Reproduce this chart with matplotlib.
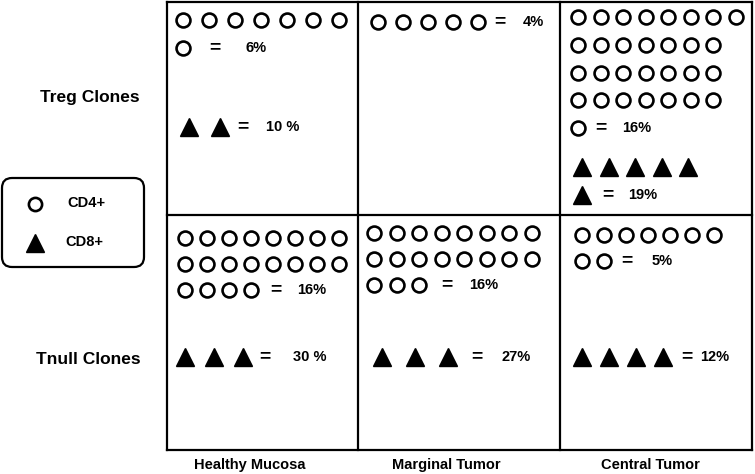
import matplotlib
matplotlib.use('Agg')
import matplotlib.pyplot as plt
from matplotlib.patches import FancyBboxPatch

plt.rcParams['font.family'] = ['Liberation Sans', 'DejaVu Sans']
plt.rcParams['font.weight'] = 'bold'

#%% data: how many clone symbols sit in each row of a cell, and the share they stand for
columns = ['Healthy Mucosa', 'Marginal Tumor', 'Central Tumor']
rows = ['Treg Clones', 'Tnull Clones']

treg_cd4_rows = [[7, 1], [5], [8, 7, 7, 7, 1]]
treg_cd4_pct = ['6%', '4%', '16%']
treg_cd8_rows = [[2], [], [5, 1]]
treg_cd8_pct = ['10 %', '', '19%']

tnull_cd4_rows = [[8, 8, 4], [8, 8, 3], [7, 2]]
tnull_cd4_pct = ['16%', '16%', '5%']
tnull_cd8_rows = [[3], [3], [4]]
tnull_cd8_pct = ['30 %', '27%', '12%']

legend_labels = ['CD4+', 'CD8+']

#%% layout (pixels): x0, y0, dx, dy, gap to '=', gap '=' -> percent
lay_treg_cd4 = [(183, 20, 26, 28, 32, 30), (378, 22, 25, 28, 22, 23), (578, 17, 22.5, 27.8, 23, 21)]
lay_treg_cd8 = [(189, 127, 31, 28, 23, 23), None, (582, 167, 26.5, 28, 26, 20)]
lay_tnull_cd4 = [(185, 238, 22, 26, 25, 21), (374, 233, 22.5, 26, 28, 22), (582, 235, 22, 26, 23, 25)]
lay_tnull_cd8 = [(185, 357, 29, 28, 22, 28), (382, 357, 33, 28, 29, 24), (582, 357, 27, 28, 24, 13)]

col_edges = [167, 358, 560, 752]
row_edges = [2, 215, 450]
col_label_x = [250, 446, 650]
row_label_pos = [(90, 97), (88, 360)]

circle = dict(marker='o', ms=10, mfc='white', mec='black', mew=1.9, ls='none')
tri = dict(marker='^', ms=13.5, mfc='black', mec='black', ls='none')
fs_txt = 10.5

fig = plt.figure(figsize=(7.55, 4.74), dpi=100)
ax = fig.add_axes([0, 0, 1, 1])
ax.set_xlim(0, 755)
ax.set_ylim(474, 0)
ax.axis('off')

# grid
for x in col_edges:
    ax.plot([x, x], [row_edges[0], row_edges[-1]], color='black', lw=1.6, solid_capstyle='projecting')
for y in row_edges:
    ax.plot([col_edges[0], col_edges[-1]], [y, y], color='black', lw=1.6, solid_capstyle='projecting')


def draw_group(counts, pct, lay, style):
    if lay is None or not counts:
        return
    x0, y0, dx, dy, eq_gap, pct_gap = lay
    last_x, last_y = x0, y0
    for i, n in enumerate(counts):
        xs = [x0 + j * dx for j in range(n)]
        ys = [y0 + i * dy] * n
        ax.plot(xs, ys, **style)
        last_x, last_y = xs[-1], ys[-1]
    ex = last_x + eq_gap
    ax.text(ex, last_y, '=', fontsize=14, ha='center', va='center')
    ax.text(ex + pct_gap, last_y, pct, fontsize=fs_txt, ha='left', va='center')


for c in range(3):
    draw_group(treg_cd4_rows[c], treg_cd4_pct[c], lay_treg_cd4[c], circle)
    draw_group(treg_cd8_rows[c], treg_cd8_pct[c], lay_treg_cd8[c], tri)
    draw_group(tnull_cd4_rows[c], tnull_cd4_pct[c], lay_tnull_cd4[c], circle)
    draw_group(tnull_cd8_rows[c], tnull_cd8_pct[c], lay_tnull_cd8[c], tri)

for c, name in enumerate(columns):
    ax.text(col_label_x[c], 465, name, fontsize=fs_txt, ha='center', va='center')
for r, name in enumerate(rows):
    ax.text(row_label_pos[r][0], row_label_pos[r][1], name, fontsize=12.5, ha='center', va='center')

# legend box
box = FancyBboxPatch((10, 186), 126, 73, boxstyle='round,pad=8,rounding_size=10',
                     fc='white', ec='black', lw=1.6)
ax.add_patch(box)
ax.plot([35], [204], **dict(circle, ms=9.5))
ax.plot([35], [243], **tri)
ax.text(67, 203, legend_labels[0], fontsize=fs_txt, ha='left', va='center')
ax.text(65, 242, legend_labels[1], fontsize=fs_txt, ha='left', va='center')

fig.savefig('out.png', dpi=100)
